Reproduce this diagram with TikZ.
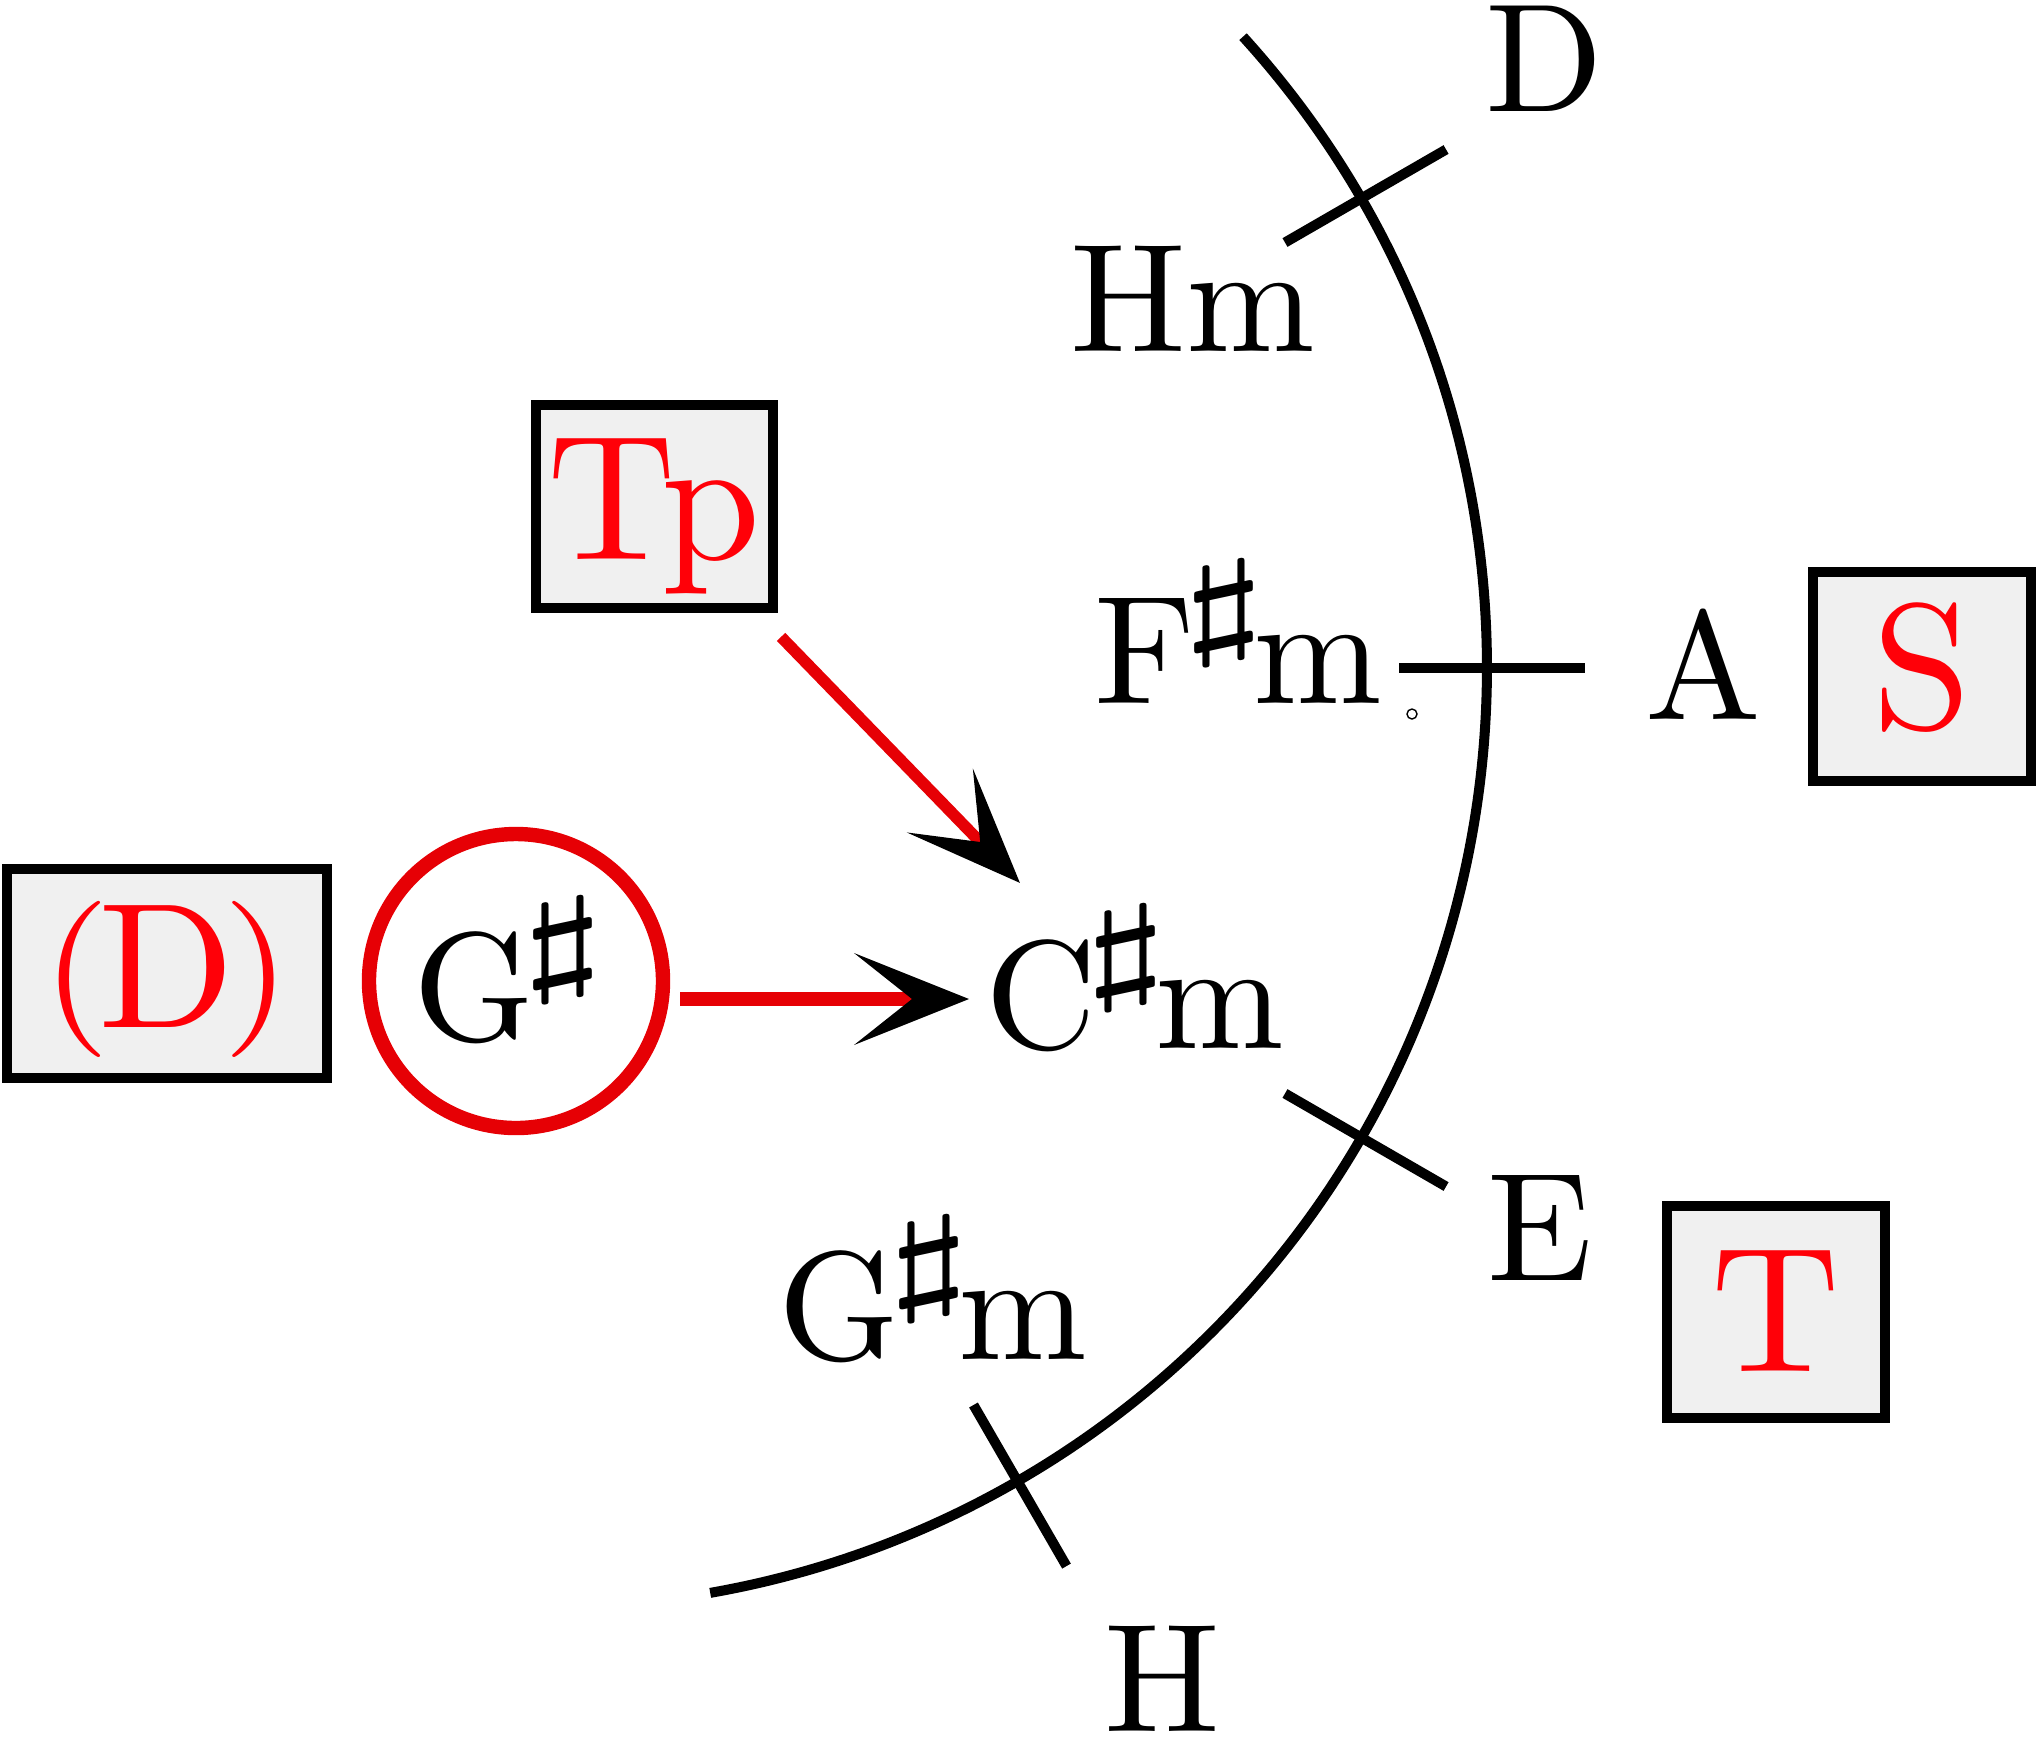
\RequirePackage{fix-cm}
\documentclass[tikz,border=0pt]{standalone}
\usepackage{graphicx}
\usetikzlibrary{arrows.meta}
\definecolor{boxgray}{RGB}{240,240,240}
\definecolor{linered}{RGB}{230,0,5}
\definecolor{textred}{RGB}{255,0,8}
\newcommand\blk[1]{\scalebox{3.86}{#1}}
\newcommand\rdt[1]{\scalebox{4.46}{#1}}
\newcommand\shp{\kern-1.4pt\raisebox{3.9pt}{\scalebox{2.19}[1.52]{$\scriptscriptstyle\sharp$}}\kern-1.35pt}
\newcommand\lpar{\scalebox{1}[0.876]{\raisebox{0.55pt}{(}}}
\newcommand\rpar{\scalebox{1}[0.876]{\raisebox{0.55pt}{)}}}
\begin{document}
\begin{tikzpicture}[x=0.25pt, y=-0.25pt,
  lab/.style={inner sep=0pt, anchor=base, text=black},
  fbox/.style={draw=black, line width=2.5pt, fill=boxgray, inner sep=0pt, text=textred},
  tickline/.style={line width=2.5pt, line cap=butt},
  redarrow/.style={draw=linered,
    -{Stealth[length=28.75pt, width=23pt, inset=14.5pt, color=black, line width=0pt]}}
]
\useasboundingbox (0,0) rectangle (2039,1739);

% circle of fifths arc
\coordinate (O) at (548,668);
\draw[tickline] (O) ++(-42.25:939) arc[start angle=-42.25, end angle=80.05, radius=939];
\foreach \a in {-30,0,30,60}
  \draw[tickline] ([shift={(\a:851)}]O) -- ([shift={(\a:1037)}]O);

\node[draw, circle, line width=0.35pt, inner sep=0pt, minimum size=2.5pt] (dot) at (1412,714) {};

% labels
\node[lab] (Dl) at (1544,111) {\blk{D}};
\node[lab] (Hm) at (1193,351) {\blk{Hm}};
\node[lab] (Fm) at (1238,703) {\blk{F\shp m}};
\node[lab] (Al) at (1703,719) {\blk{A}};
\node[lab] (Cm) at (1135,1048) {\blk{C\shp m}};
\node[lab] (El) at (1540,1280) {\blk{E}};
\node[lab] (Gm) at (933,1359) {\blk{G\shp m}};
\node[lab] (Hl) at (1162,1731) {\blk{H}};

% function boxes
\node[fbox, minimum width=59.25pt, minimum height=50.75pt, text height=35.15pt, text depth=8.65pt] (Tp) at (654,506) {\rdt{Tp}};
\node[fbox, minimum width=80pt, minimum height=52.25pt, text height=37.9pt, text depth=11.15pt] (Dd) at (167,973.5) {\rdt{\lpar\kern-0.7pt D\kern-0.7pt\rpar}};
\node[fbox, minimum width=54.5pt, minimum height=52.25pt, text height=25.75pt, text depth=0pt] (S) at (1922,676.5) {\rdt{S}};
\node[fbox, minimum width=54.5pt, minimum height=53pt, text height=29.5pt, text depth=0pt] (T) at (1776,1312) {\rdt{T}};

% circled secondary dominant
\node[circle, draw=linered, line width=3.6pt, minimum size=73.5pt, inner sep=0pt,
      text height=29.5pt, text depth=0pt] (Gs) at (516,981) {\blk{G\shp\kern1.7pt}};

% arrows
\draw[redarrow, line width=2.9pt, shorten <=8.5pt, shorten >=41.3pt] (Tp) -- ([yshift=11.65pt]Cm.base);
\draw[redarrow, line width=3.7pt, shorten <=2.5pt, shorten >=41.5pt] ([yshift=-4.5pt]Gs.east) -- ([yshift=-4.5pt]Gs.east -| Cm.base);
\end{tikzpicture}
\end{document}
